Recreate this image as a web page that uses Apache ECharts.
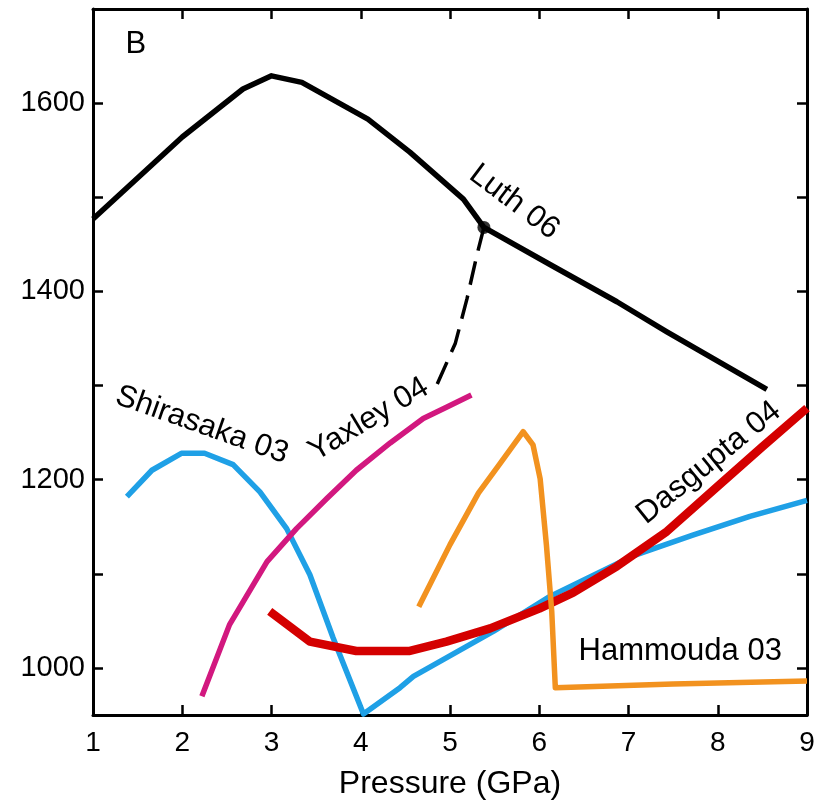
<!DOCTYPE html>
<html>
<head>
<meta charset="utf-8">
<script src="https://cdn.jsdelivr.net/npm/echarts@6/dist/echarts.min.js"></script>
<style>
  html, body { margin: 0; padding: 0; background: #fff; }
  #chart { width: 825px; height: 805px; }
</style>
</head>
<body>
<div id="chart"></div>
<script>
// Solidus / melting curves, temperature (°C) against pressure (GPa)
const luthP = [1.0, 2.0, 2.68, 3.0, 3.34, 4.08, 4.55, 5.15, 5.38, 6.15, 6.87, 7.43, 8.55];
const luthT = [1477, 1564, 1615, 1629, 1622, 1583, 1548, 1498, 1468, 1427, 1389, 1357, 1296];

// dashed branch leaving the Luth 06 curve
const luthDashP = [5.38, 5.30, 5.19, 5.06, 4.85];
const luthDashT = [1468, 1438, 1392, 1345, 1300];

// the junction point on Luth 06
const luthNodeP = [5.38];
const luthNodeT = [1468];

const shirasakaP = [1.38, 1.66, 1.99, 2.25, 2.57, 2.87, 3.17, 3.43, 3.69, 4.03, 4.44, 4.59, 5.49, 6.12, 7.05, 7.72, 8.36, 9.0];
const shirasakaT = [1182, 1210, 1228, 1228, 1216, 1187, 1148, 1099, 1032, 951, 979, 991, 1039, 1076, 1119, 1141, 1161, 1178];

const yaxleyP = [2.22, 2.53, 2.95, 3.28, 3.62, 3.95, 4.33, 4.70, 4.96, 5.24];
const yaxleyT = [970, 1046, 1113, 1148, 1180, 1210, 1239, 1265, 1277, 1290];

const hammoudaP = [4.65, 5.0, 5.32, 5.56, 5.82, 5.93, 6.01, 6.08, 6.14, 6.18, 7.5, 9.0];
const hammoudaT = [1065, 1131, 1186, 1217, 1251, 1237, 1201, 1131, 1060, 979, 983, 986];

const dasguptaP = [2.98, 3.43, 3.95, 4.55, 4.96, 5.45, 6.0, 6.38, 6.87, 7.43, 8.0, 8.5, 9.0];
const dasguptaT = [1060, 1028, 1018, 1018, 1028, 1042, 1063, 1080, 1108, 1145, 1193, 1235, 1276];

// axis ticks and labels
const xTicks = [1, 2, 3, 4, 5, 6, 7, 8, 9];
const yTickValues = [1000, 1100, 1200, 1300, 1400, 1500, 1600, 1700];
const yLabelValues = [1000, 1200, 1400, 1600];

// curve names and panel letter, anchored in data coordinates
const labelTexts = ['B', 'Luth 06', 'Shirasaka 03', 'Yaxley 04', 'Dasgupta 04', 'Hammouda 03'];
const labelP = [1.48, 5.72, 2.22, 4.09, 7.90, 7.58];
const labelT = [1662, 1495, 1258, 1264, 1218, 1018];
const labelAngle = [0, -37, -19.5, 31, 39, 0];

const FONT = '"Liberation Sans", Arial, Helvetica, sans-serif';
const zip = (a, b) => a.map((v, i) => [v, b[i]]);

const chart = echarts.init(document.getElementById('chart'), null, { renderer: 'canvas' });

const axisLine = { show: true, lineStyle: { color: '#000', width: 3 } };
const tick = { show: true, inside: true, length: 10, lineStyle: { color: '#000', width: 2.5 } };

function lineSeries(name, p, t, color, width, z, dashed) {
  return {
    name, type: 'line', data: zip(p, t), showSymbol: false, symbol: 'none',
    lineStyle: { color, width, type: dashed ? [24, 11] : 'solid', cap: 'butt', join: 'round' },
    z, silent: true, animation: false
  };
}

chart.setOption({
  animation: false,
  backgroundColor: '#fff',
  grid: { left: 93, right: 18, top: 9, bottom: 88, containLabel: false },
  xAxis: [
    {
      type: 'value', min: 1, max: 9, interval: 1, position: 'bottom',
      axisLine, axisTick: tick, splitLine: { show: false },
      axisLabel: {
        show: true, color: '#000', fontSize: 28, fontFamily: FONT, margin: 14,
        customValues: xTicks
      },
      name: 'Pressure (GPa)', nameLocation: 'middle', nameGap: 53,
      nameTextStyle: { color: '#000', fontSize: 32, fontFamily: FONT }
    },
    {
      type: 'value', min: 1, max: 9, interval: 1, position: 'top',
      axisLine, axisTick: tick, axisLabel: { show: false }, splitLine: { show: false }
    }
  ],
  yAxis: [
    {
      type: 'value', min: 950, max: 1700, position: 'left',
      axisLine, splitLine: { show: false },
      axisTick: Object.assign({}, tick, { customValues: yTickValues }),
      axisLabel: {
        show: true, color: '#000', fontSize: 29, fontFamily: FONT, margin: 8,
        customValues: yLabelValues,
        formatter: v => String(v)
      }
    },
    {
      type: 'value', min: 950, max: 1700, position: 'right',
      axisLine, splitLine: { show: false },
      axisTick: Object.assign({}, tick, { customValues: yTickValues }),
      axisLabel: { show: false }
    }
  ],
  series: [
    lineSeries('Shirasaka 03', shirasakaP, shirasakaT, '#1FA0E6', 5.5, 2),
    lineSeries('Yaxley 04', yaxleyP, yaxleyT, '#D2187F', 5.5, 3),
    lineSeries('Dasgupta 04', dasguptaP, dasguptaT, '#D40000', 8.5, 4),
    lineSeries('Hammouda 03', hammoudaP, hammoudaT, '#F2921F', 5.5, 5),
    lineSeries('Luth 06 branch', luthDashP, luthDashT, '#000', 3.5, 6, true),
    lineSeries('Luth 06', luthP, luthT, '#000', 5.5, 7),
    {
      name: 'Luth 06 node', type: 'scatter', data: zip(luthNodeP, luthNodeT),
      symbol: 'circle', symbolSize: 13, itemStyle: { color: '#000' }, z: 8, silent: true
    }
  ]
});

// place the curve names at their data anchors
const graphics = labelTexts.map((txt, i) => {
  const [px, py] = chart.convertToPixel({ gridIndex: 0 }, [labelP[i], labelT[i]]);
  return {
    type: 'text', x: px, y: py, rotation: labelAngle[i] * Math.PI / 180, z: 20,
    style: {
      text: txt, fill: '#000', fontSize: 31, fontFamily: FONT,
      align: 'center', verticalAlign: 'middle'
    }
  };
});
chart.setOption({ graphic: graphics });
</script>
</body>
</html>
